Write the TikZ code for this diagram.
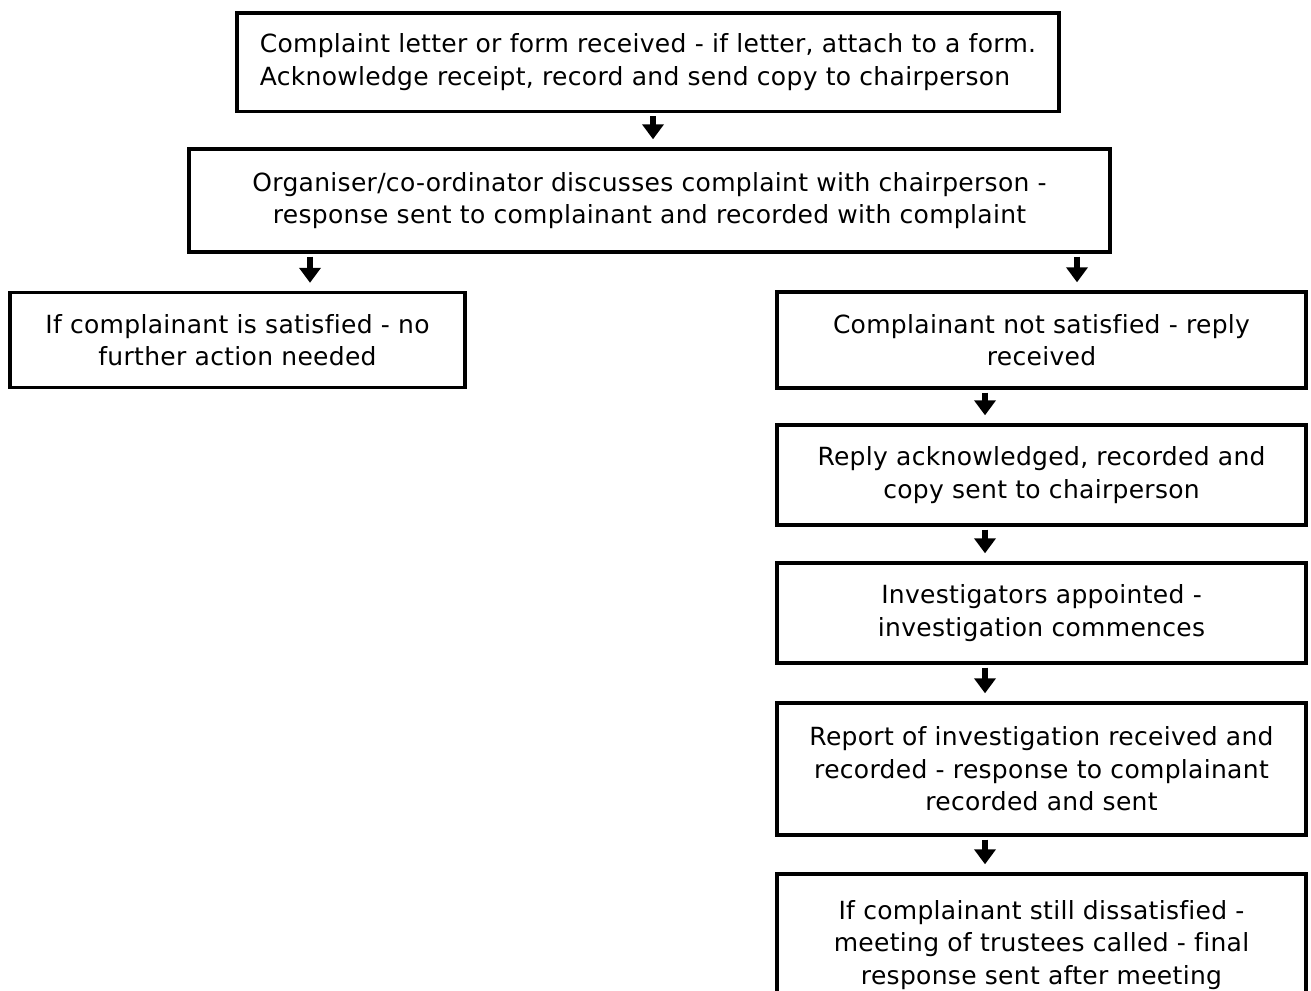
\documentclass[tikz,border=0pt]{standalone}
\usepackage{fontspec}
\setmainfont{DejaVu Sans}[LetterSpace=1.2,Ligatures=CommonOff]
\usetikzlibrary{arrows.meta}
\begin{document}
\begin{tikzpicture}[x=1pt,y=-1pt,
  box/.style={draw=black, line width=3.4pt, inner sep=0pt, align=center,
    font=\fontsize{25}{32.4}\selectfont},
  darr/.style={line width=6pt, -{Triangle[length=15pt,width=21pt]},
    shorten <=3pt, shorten >=8pt}]
\useasboundingbox (0,0) rectangle (1311,990);
\clip (0,0) rectangle (1311,990);

\node[box, align=left, minimum width=822pt, minimum height=98.5pt] (b1) at (648,62.25)
  {Complaint letter or form received - if letter, attach to a form.\\Acknowledge receipt, record and send copy to chairperson};
\node[box, minimum width=921pt, minimum height=103pt] (b2) at (649.5,200.5)
  {Organiser/co-ordinator discusses complaint with chairperson -\\response sent to complainant and recorded with complaint};
\node[box, minimum width=455pt, minimum height=95pt] (b3) at (237.5,340)
  {If complainant is satisfied - no\\further action needed};
\node[box, minimum width=529pt, minimum height=96pt] (b4) at (1041.5,340)
  {Complainant not satisfied - reply\\received};
\node[box, minimum width=529pt, minimum height=100pt] (b5) at (1041.5,475)
  {Reply acknowledged, recorded and\\copy sent to chairperson};
\node[box, minimum width=529pt, minimum height=100pt] (b6) at (1041.5,613)
  {Investigators appointed -\\investigation commences};
\node[box, minimum width=529pt, minimum height=132pt] (b7) at (1041.5,769)
  {Report of investigation received and\\recorded - response to complainant\\recorded and sent};
\node[box, minimum width=529pt, minimum height=142pt] (b8) at (1041.5,945)
  {If complainant still dissatisfied -\\meeting of trustees called - final\\response sent after meeting};

\coordinate (a1) at (653,0);
\coordinate (a2) at (310,0);
\coordinate (a3) at (1077,0);
\coordinate (a4) at (985,0);

\draw[darr] (b1.south -| a1) -- (b2.north -| a1);
\draw[darr] (b2.south -| a2) -- (b3.north -| a2);
\draw[darr] (b2.south -| a3) -- (b4.north -| a3);
\draw[darr] (b4.south -| a4) -- (b5.north -| a4);
\draw[darr] (b5.south -| a4) -- (b6.north -| a4);
\draw[darr] (b6.south -| a4) -- (b7.north -| a4);
\draw[darr] (b7.south -| a4) -- (b8.north -| a4);
\end{tikzpicture}
\end{document}
